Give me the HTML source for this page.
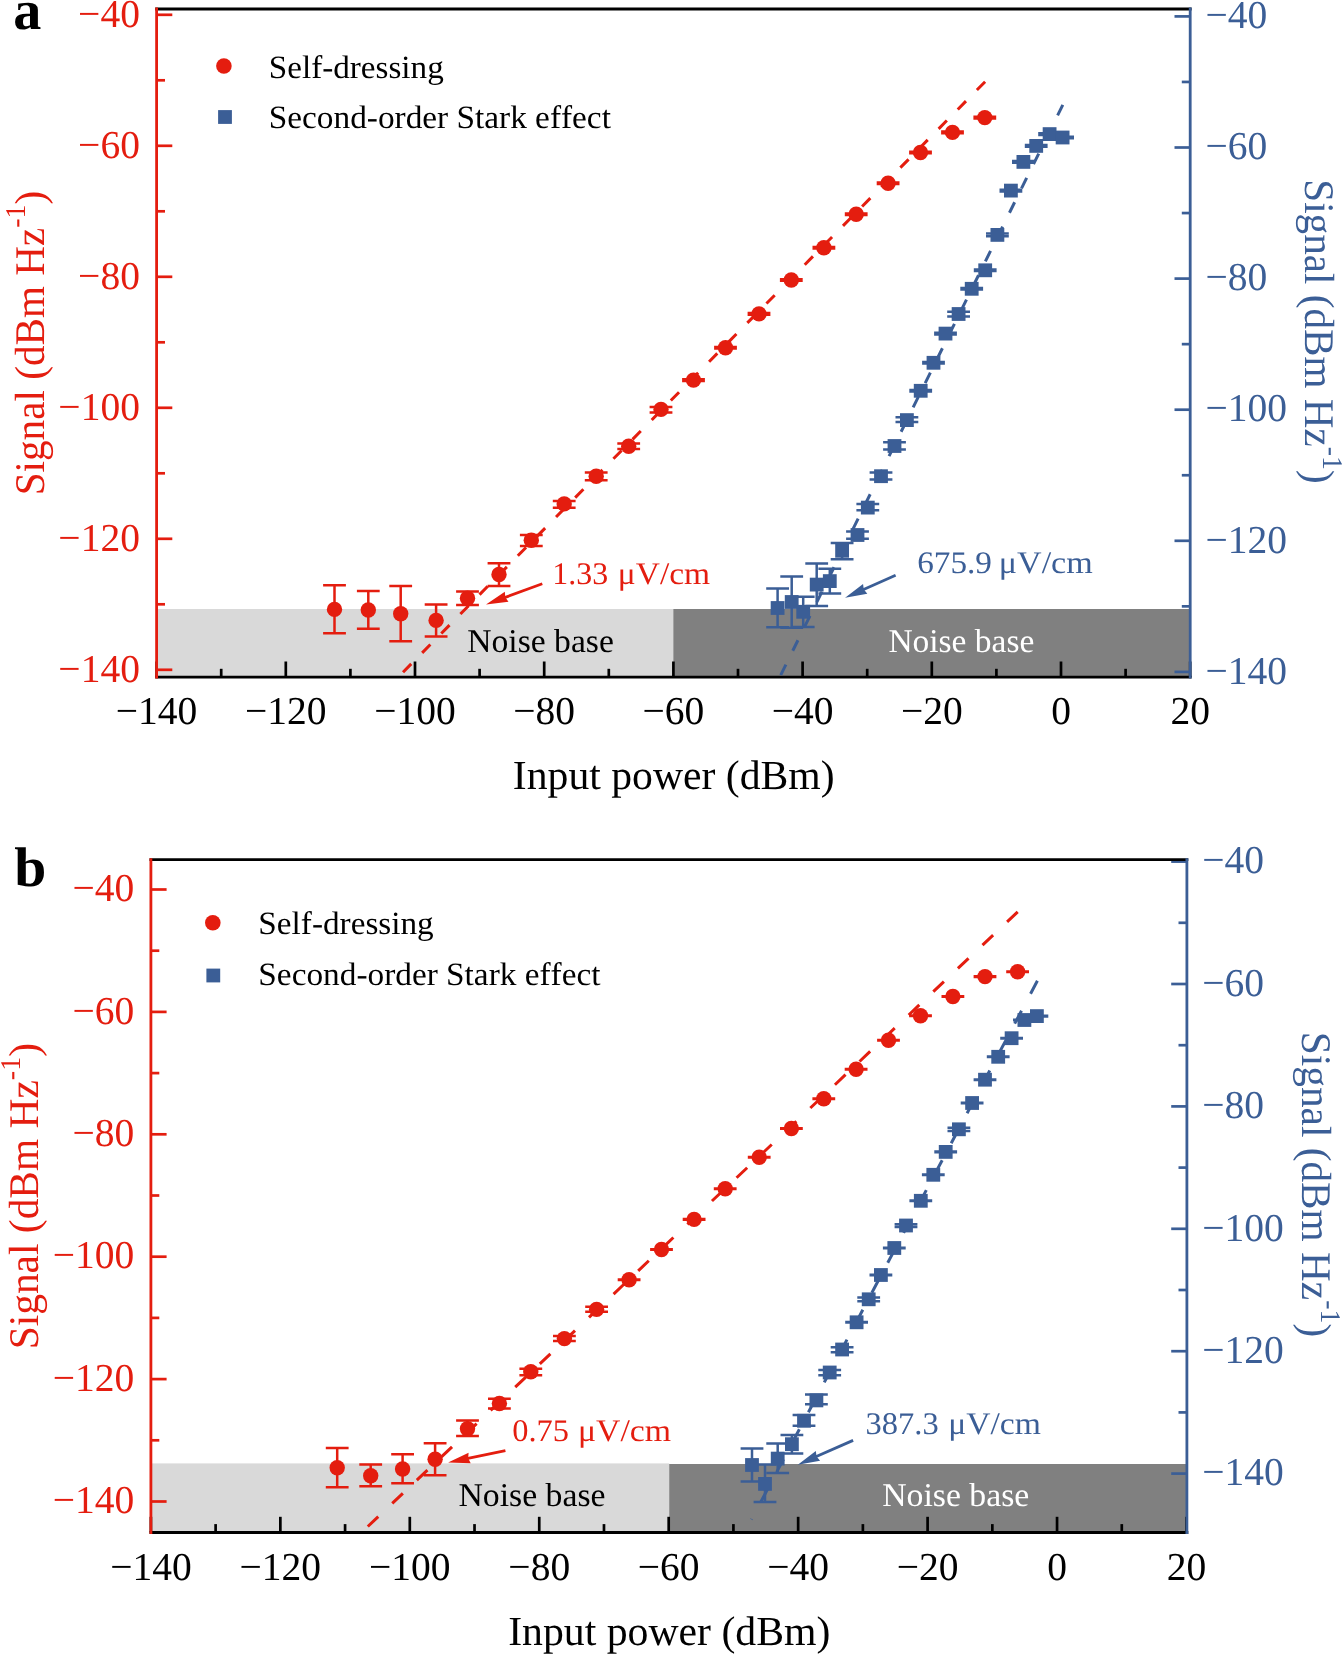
<!DOCTYPE html>
<html><head><meta charset="utf-8"><style>
html,body{margin:0;padding:0;background:#fff;}
svg{display:block;font-family:"Liberation Serif", serif;font-kerning:none;font-variant-ligatures:none;text-rendering:geometricPrecision;filter:blur(0.45px);}
</style></head><body>
<svg width="1343" height="1654" viewBox="0 0 1343 1654">
<rect width="1343" height="1654" fill="#fff"/>
<rect x="156.6" y="609" width="516.7" height="68.2" fill="#d9d9d9"/>
<rect x="673.3" y="609" width="516.9" height="68.2" fill="#808080"/>
<line x1="156.6" y1="677.2" x2="156.6" y2="661.5" stroke="#000" stroke-width="2.7"/>
<line x1="221.2" y1="677.2" x2="221.2" y2="668.8" stroke="#000" stroke-width="2.7"/>
<line x1="285.8" y1="677.2" x2="285.8" y2="661.5" stroke="#000" stroke-width="2.7"/>
<line x1="350.4" y1="677.2" x2="350.4" y2="668.8" stroke="#000" stroke-width="2.7"/>
<line x1="415" y1="677.2" x2="415" y2="661.5" stroke="#000" stroke-width="2.7"/>
<line x1="479.6" y1="677.2" x2="479.6" y2="668.8" stroke="#000" stroke-width="2.7"/>
<line x1="544.2" y1="677.2" x2="544.2" y2="661.5" stroke="#000" stroke-width="2.7"/>
<line x1="608.8" y1="677.2" x2="608.8" y2="668.8" stroke="#000" stroke-width="2.7"/>
<line x1="673.4" y1="677.2" x2="673.4" y2="661.5" stroke="#000" stroke-width="2.7"/>
<line x1="738" y1="677.2" x2="738" y2="668.8" stroke="#000" stroke-width="2.7"/>
<line x1="802.6" y1="677.2" x2="802.6" y2="661.5" stroke="#000" stroke-width="2.7"/>
<line x1="867.2" y1="677.2" x2="867.2" y2="668.8" stroke="#000" stroke-width="2.7"/>
<line x1="931.8" y1="677.2" x2="931.8" y2="661.5" stroke="#000" stroke-width="2.7"/>
<line x1="996.4" y1="677.2" x2="996.4" y2="668.8" stroke="#000" stroke-width="2.7"/>
<line x1="1061" y1="677.2" x2="1061" y2="661.5" stroke="#000" stroke-width="2.7"/>
<line x1="1125.6" y1="677.2" x2="1125.6" y2="668.8" stroke="#000" stroke-width="2.7"/>
<line x1="1190.2" y1="677.2" x2="1190.2" y2="661.5" stroke="#000" stroke-width="2.7"/>
<line x1="156.6" y1="14.8" x2="172.3" y2="14.8" stroke="#e41d0f" stroke-width="2.7"/>
<line x1="156.6" y1="80.3" x2="165" y2="80.3" stroke="#e41d0f" stroke-width="2.7"/>
<line x1="156.6" y1="145.8" x2="172.3" y2="145.8" stroke="#e41d0f" stroke-width="2.7"/>
<line x1="156.6" y1="211.3" x2="165" y2="211.3" stroke="#e41d0f" stroke-width="2.7"/>
<line x1="156.6" y1="276.8" x2="172.3" y2="276.8" stroke="#e41d0f" stroke-width="2.7"/>
<line x1="156.6" y1="342.3" x2="165" y2="342.3" stroke="#e41d0f" stroke-width="2.7"/>
<line x1="156.6" y1="407.8" x2="172.3" y2="407.8" stroke="#e41d0f" stroke-width="2.7"/>
<line x1="156.6" y1="473.3" x2="165" y2="473.3" stroke="#e41d0f" stroke-width="2.7"/>
<line x1="156.6" y1="538.8" x2="172.3" y2="538.8" stroke="#e41d0f" stroke-width="2.7"/>
<line x1="156.6" y1="604.3" x2="165" y2="604.3" stroke="#e41d0f" stroke-width="2.7"/>
<line x1="156.6" y1="669.8" x2="172.3" y2="669.8" stroke="#e41d0f" stroke-width="2.7"/>
<line x1="1190.2" y1="16.4" x2="1174.5" y2="16.4" stroke="#3b5e96" stroke-width="2.7"/>
<line x1="1190.2" y1="81.95" x2="1181.8" y2="81.95" stroke="#3b5e96" stroke-width="2.7"/>
<line x1="1190.2" y1="147.5" x2="1174.5" y2="147.5" stroke="#3b5e96" stroke-width="2.7"/>
<line x1="1190.2" y1="213.05" x2="1181.8" y2="213.05" stroke="#3b5e96" stroke-width="2.7"/>
<line x1="1190.2" y1="278.6" x2="1174.5" y2="278.6" stroke="#3b5e96" stroke-width="2.7"/>
<line x1="1190.2" y1="344.15" x2="1181.8" y2="344.15" stroke="#3b5e96" stroke-width="2.7"/>
<line x1="1190.2" y1="409.7" x2="1174.5" y2="409.7" stroke="#3b5e96" stroke-width="2.7"/>
<line x1="1190.2" y1="475.25" x2="1181.8" y2="475.25" stroke="#3b5e96" stroke-width="2.7"/>
<line x1="1190.2" y1="540.8" x2="1174.5" y2="540.8" stroke="#3b5e96" stroke-width="2.7"/>
<line x1="1190.2" y1="606.35" x2="1181.8" y2="606.35" stroke="#3b5e96" stroke-width="2.7"/>
<line x1="1190.2" y1="671.9" x2="1174.5" y2="671.9" stroke="#3b5e96" stroke-width="2.7"/>
<line x1="155.2" y1="9" x2="1191.6" y2="9" stroke="#000" stroke-width="2.8"/>
<line x1="155.2" y1="677.2" x2="1191.6" y2="677.2" stroke="#000" stroke-width="2.8"/>
<line x1="156.6" y1="7.6" x2="156.6" y2="678.6" stroke="#e41d0f" stroke-width="2.8"/>
<line x1="1190.2" y1="7.6" x2="1190.2" y2="678.6" stroke="#3b5e96" stroke-width="2.8"/>
<text x="156.6" y="724.2" font-size="39.5" text-anchor="middle" fill="#000">−140</text>
<text x="285.8" y="724.2" font-size="39.5" text-anchor="middle" fill="#000">−120</text>
<text x="415" y="724.2" font-size="39.5" text-anchor="middle" fill="#000">−100</text>
<text x="544.2" y="724.2" font-size="39.5" text-anchor="middle" fill="#000">−80</text>
<text x="673.4" y="724.2" font-size="39.5" text-anchor="middle" fill="#000">−60</text>
<text x="802.6" y="724.2" font-size="39.5" text-anchor="middle" fill="#000">−40</text>
<text x="931.8" y="724.2" font-size="39.5" text-anchor="middle" fill="#000">−20</text>
<text x="1061" y="724.2" font-size="39.5" text-anchor="middle" fill="#000">0</text>
<text x="1190.2" y="724.2" font-size="39.5" text-anchor="middle" fill="#000">20</text>
<text x="139.9" y="26.5" font-size="39.5" text-anchor="end" fill="#e41d0f">−40</text>
<text x="1205.6" y="28.1" font-size="39.5" fill="#3b5e96">−40</text>
<text x="139.9" y="157.5" font-size="39.5" text-anchor="end" fill="#e41d0f">−60</text>
<text x="1205.6" y="159.2" font-size="39.5" fill="#3b5e96">−60</text>
<text x="139.9" y="288.5" font-size="39.5" text-anchor="end" fill="#e41d0f">−80</text>
<text x="1205.6" y="290.3" font-size="39.5" fill="#3b5e96">−80</text>
<text x="139.9" y="419.5" font-size="39.5" text-anchor="end" fill="#e41d0f">−100</text>
<text x="1205.6" y="421.4" font-size="39.5" fill="#3b5e96">−100</text>
<text x="139.9" y="550.5" font-size="39.5" text-anchor="end" fill="#e41d0f">−120</text>
<text x="1205.6" y="552.5" font-size="39.5" fill="#3b5e96">−120</text>
<text x="139.9" y="681.5" font-size="39.5" text-anchor="end" fill="#e41d0f">−140</text>
<text x="1205.6" y="683.6" font-size="39.5" fill="#3b5e96">−140</text>
<rect x="150.9" y="1463.4" width="518.3" height="69.1" fill="#d9d9d9"/>
<rect x="669.2" y="1464" width="517.7" height="68.5" fill="#808080"/>
<line x1="150.9" y1="1532.5" x2="150.9" y2="1516.8" stroke="#000" stroke-width="2.7"/>
<line x1="215.62" y1="1532.5" x2="215.62" y2="1524.1" stroke="#000" stroke-width="2.7"/>
<line x1="280.35" y1="1532.5" x2="280.35" y2="1516.8" stroke="#000" stroke-width="2.7"/>
<line x1="345.08" y1="1532.5" x2="345.08" y2="1524.1" stroke="#000" stroke-width="2.7"/>
<line x1="409.8" y1="1532.5" x2="409.8" y2="1516.8" stroke="#000" stroke-width="2.7"/>
<line x1="474.52" y1="1532.5" x2="474.52" y2="1524.1" stroke="#000" stroke-width="2.7"/>
<line x1="539.25" y1="1532.5" x2="539.25" y2="1516.8" stroke="#000" stroke-width="2.7"/>
<line x1="603.98" y1="1532.5" x2="603.98" y2="1524.1" stroke="#000" stroke-width="2.7"/>
<line x1="668.7" y1="1532.5" x2="668.7" y2="1516.8" stroke="#000" stroke-width="2.7"/>
<line x1="733.42" y1="1532.5" x2="733.42" y2="1524.1" stroke="#000" stroke-width="2.7"/>
<line x1="798.15" y1="1532.5" x2="798.15" y2="1516.8" stroke="#000" stroke-width="2.7"/>
<line x1="862.88" y1="1532.5" x2="862.88" y2="1524.1" stroke="#000" stroke-width="2.7"/>
<line x1="927.6" y1="1532.5" x2="927.6" y2="1516.8" stroke="#000" stroke-width="2.7"/>
<line x1="992.33" y1="1532.5" x2="992.33" y2="1524.1" stroke="#000" stroke-width="2.7"/>
<line x1="1057.05" y1="1532.5" x2="1057.05" y2="1516.8" stroke="#000" stroke-width="2.7"/>
<line x1="1121.78" y1="1532.5" x2="1121.78" y2="1524.1" stroke="#000" stroke-width="2.7"/>
<line x1="1186.5" y1="1532.5" x2="1186.5" y2="1516.8" stroke="#000" stroke-width="2.7"/>
<line x1="150.9" y1="889.5" x2="166.6" y2="889.5" stroke="#e41d0f" stroke-width="2.7"/>
<line x1="150.9" y1="950.7" x2="159.3" y2="950.7" stroke="#e41d0f" stroke-width="2.7"/>
<line x1="150.9" y1="1011.9" x2="166.6" y2="1011.9" stroke="#e41d0f" stroke-width="2.7"/>
<line x1="150.9" y1="1073.1" x2="159.3" y2="1073.1" stroke="#e41d0f" stroke-width="2.7"/>
<line x1="150.9" y1="1134.3" x2="166.6" y2="1134.3" stroke="#e41d0f" stroke-width="2.7"/>
<line x1="150.9" y1="1195.5" x2="159.3" y2="1195.5" stroke="#e41d0f" stroke-width="2.7"/>
<line x1="150.9" y1="1256.7" x2="166.6" y2="1256.7" stroke="#e41d0f" stroke-width="2.7"/>
<line x1="150.9" y1="1317.9" x2="159.3" y2="1317.9" stroke="#e41d0f" stroke-width="2.7"/>
<line x1="150.9" y1="1379.1" x2="166.6" y2="1379.1" stroke="#e41d0f" stroke-width="2.7"/>
<line x1="150.9" y1="1440.3" x2="159.3" y2="1440.3" stroke="#e41d0f" stroke-width="2.7"/>
<line x1="150.9" y1="1501.5" x2="166.6" y2="1501.5" stroke="#e41d0f" stroke-width="2.7"/>
<line x1="1186.9" y1="861.6" x2="1171.2" y2="861.6" stroke="#3b5e96" stroke-width="2.7"/>
<line x1="1186.9" y1="922.8" x2="1178.5" y2="922.8" stroke="#3b5e96" stroke-width="2.7"/>
<line x1="1186.9" y1="984" x2="1171.2" y2="984" stroke="#3b5e96" stroke-width="2.7"/>
<line x1="1186.9" y1="1045.2" x2="1178.5" y2="1045.2" stroke="#3b5e96" stroke-width="2.7"/>
<line x1="1186.9" y1="1106.4" x2="1171.2" y2="1106.4" stroke="#3b5e96" stroke-width="2.7"/>
<line x1="1186.9" y1="1167.6" x2="1178.5" y2="1167.6" stroke="#3b5e96" stroke-width="2.7"/>
<line x1="1186.9" y1="1228.8" x2="1171.2" y2="1228.8" stroke="#3b5e96" stroke-width="2.7"/>
<line x1="1186.9" y1="1290" x2="1178.5" y2="1290" stroke="#3b5e96" stroke-width="2.7"/>
<line x1="1186.9" y1="1351.2" x2="1171.2" y2="1351.2" stroke="#3b5e96" stroke-width="2.7"/>
<line x1="1186.9" y1="1412.4" x2="1178.5" y2="1412.4" stroke="#3b5e96" stroke-width="2.7"/>
<line x1="1186.9" y1="1473.6" x2="1171.2" y2="1473.6" stroke="#3b5e96" stroke-width="2.7"/>
<line x1="149.5" y1="859.7" x2="1188.3" y2="859.7" stroke="#000" stroke-width="2.8"/>
<line x1="149.5" y1="1532.5" x2="1188.3" y2="1532.5" stroke="#000" stroke-width="2.8"/>
<line x1="150.9" y1="858.3" x2="150.9" y2="1533.9" stroke="#e41d0f" stroke-width="2.8"/>
<line x1="1186.9" y1="858.3" x2="1186.9" y2="1533.9" stroke="#3b5e96" stroke-width="2.8"/>
<text x="150.9" y="1579.5" font-size="39.5" text-anchor="middle" fill="#000">−140</text>
<text x="280.35" y="1579.5" font-size="39.5" text-anchor="middle" fill="#000">−120</text>
<text x="409.8" y="1579.5" font-size="39.5" text-anchor="middle" fill="#000">−100</text>
<text x="539.25" y="1579.5" font-size="39.5" text-anchor="middle" fill="#000">−80</text>
<text x="668.7" y="1579.5" font-size="39.5" text-anchor="middle" fill="#000">−60</text>
<text x="798.15" y="1579.5" font-size="39.5" text-anchor="middle" fill="#000">−40</text>
<text x="927.6" y="1579.5" font-size="39.5" text-anchor="middle" fill="#000">−20</text>
<text x="1057.05" y="1579.5" font-size="39.5" text-anchor="middle" fill="#000">0</text>
<text x="1186.5" y="1579.5" font-size="39.5" text-anchor="middle" fill="#000">20</text>
<text x="134.2" y="901.2" font-size="39.5" text-anchor="end" fill="#e41d0f">−40</text>
<text x="1202.3" y="873.3" font-size="39.5" fill="#3b5e96">−40</text>
<text x="134.2" y="1023.6" font-size="39.5" text-anchor="end" fill="#e41d0f">−60</text>
<text x="1202.3" y="995.7" font-size="39.5" fill="#3b5e96">−60</text>
<text x="134.2" y="1146" font-size="39.5" text-anchor="end" fill="#e41d0f">−80</text>
<text x="1202.3" y="1118.1" font-size="39.5" fill="#3b5e96">−80</text>
<text x="134.2" y="1268.4" font-size="39.5" text-anchor="end" fill="#e41d0f">−100</text>
<text x="1202.3" y="1240.5" font-size="39.5" fill="#3b5e96">−100</text>
<text x="134.2" y="1390.8" font-size="39.5" text-anchor="end" fill="#e41d0f">−120</text>
<text x="1202.3" y="1362.9" font-size="39.5" fill="#3b5e96">−120</text>
<text x="134.2" y="1513.2" font-size="39.5" text-anchor="end" fill="#e41d0f">−140</text>
<text x="1202.3" y="1485.3" font-size="39.5" fill="#3b5e96">−140</text>
<defs><clipPath id="ca"><rect x="156.6" y="8.7" width="1033.6" height="667.1"/></clipPath><clipPath id="cb"><rect x="150.9" y="859.3" width="1036" height="671.8"/></clipPath></defs>
<line x1="985.1" y1="81.7" x2="402" y2="673.3" stroke="#e41d0f" stroke-width="3" stroke-dasharray="11.7 15.55" clip-path="url(#ca)"/>
<line x1="1062.8" y1="104.9" x2="776.2" y2="684.2" stroke="#3b5e96" stroke-width="3" stroke-dasharray="11.7 15.45" clip-path="url(#ca)"/>
<path d="M334.5 585.2V633.2M323.1 585.2H345.9M323.1 633.2H345.9" stroke="#e41d0f" stroke-width="2.5" fill="none"/>
<path d="M368.3 591V628.7M356.9 591H379.7M356.9 628.7H379.7" stroke="#e41d0f" stroke-width="2.5" fill="none"/>
<path d="M400.7 586.1V641.3M389.3 586.1H412.1M389.3 641.3H412.1" stroke="#e41d0f" stroke-width="2.5" fill="none"/>
<path d="M436.1 604.5V636.5M424.7 604.5H447.5M424.7 636.5H447.5" stroke="#e41d0f" stroke-width="2.5" fill="none"/>
<path d="M467.5 591.4V604.9M456.1 591.4H478.9M456.1 604.9H478.9" stroke="#e41d0f" stroke-width="2.5" fill="none"/>
<path d="M499 563.3V586M487.6 563.3H510.4M487.6 586H510.4" stroke="#e41d0f" stroke-width="2.5" fill="none"/>
<path d="M531.3 534.9V546.1M519.9 534.9H542.7M519.9 546.1H542.7" stroke="#e41d0f" stroke-width="2.5" fill="none"/>
<path d="M564.2 501V507.8M552.8 501H575.6M552.8 507.8H575.6" stroke="#e41d0f" stroke-width="2.5" fill="none"/>
<path d="M596.2 472.5V480.3M584.8 472.5H607.6M584.8 480.3H607.6" stroke="#e41d0f" stroke-width="2.5" fill="none"/>
<path d="M628.7 443.5V448.9M617.3 443.5H640.1M617.3 448.9H640.1" stroke="#e41d0f" stroke-width="2.5" fill="none"/>
<path d="M661 407.1V412.5M649.6 407.1H672.4M649.6 412.5H672.4" stroke="#e41d0f" stroke-width="2.5" fill="none"/>
<path d="M693.5 379.3V380.9M682.1 379.3H704.9M682.1 380.9H704.9" stroke="#e41d0f" stroke-width="2.5" fill="none"/>
<path d="M725.5 347V348.6M714.1 347H736.9M714.1 348.6H736.9" stroke="#e41d0f" stroke-width="2.5" fill="none"/>
<path d="M759 313.1V314.7M747.6 313.1H770.4M747.6 314.7H770.4" stroke="#e41d0f" stroke-width="2.5" fill="none"/>
<path d="M791.3 279.2V280.8M779.9 279.2H802.7M779.9 280.8H802.7" stroke="#e41d0f" stroke-width="2.5" fill="none"/>
<path d="M823.9 246.9V248.5M812.5 246.9H835.3M812.5 248.5H835.3" stroke="#e41d0f" stroke-width="2.5" fill="none"/>
<path d="M856.2 213.4V215M844.8 213.4H867.6M844.8 215H867.6" stroke="#e41d0f" stroke-width="2.5" fill="none"/>
<path d="M888.1 182.4V184M876.7 182.4H899.5M876.7 184H899.5" stroke="#e41d0f" stroke-width="2.5" fill="none"/>
<path d="M920.5 151.7V153.3M909.1 151.7H931.9M909.1 153.3H931.9" stroke="#e41d0f" stroke-width="2.5" fill="none"/>
<path d="M952.5 131.6V133.2M941.1 131.6H963.9M941.1 133.2H963.9" stroke="#e41d0f" stroke-width="2.5" fill="none"/>
<path d="M984.8 116.8V118.4M973.4 116.8H996.2M973.4 118.4H996.2" stroke="#e41d0f" stroke-width="2.5" fill="none"/>
<path d="M777.6 588.6V627.3M766.2 588.6H789M766.2 627.3H789" stroke="#3b5e96" stroke-width="2.5" fill="none"/>
<path d="M791.7 576.5V627.8M780.3 576.5H803.1M780.3 627.8H803.1" stroke="#3b5e96" stroke-width="2.5" fill="none"/>
<path d="M803.2 596.7V627M791.8 596.7H814.6M791.8 627H814.6" stroke="#3b5e96" stroke-width="2.5" fill="none"/>
<path d="M816.7 563.5V606M805.3 563.5H828.1M805.3 606H828.1" stroke="#3b5e96" stroke-width="2.5" fill="none"/>
<path d="M829.8 568.7V593.5M818.4 568.7H841.2M818.4 593.5H841.2" stroke="#3b5e96" stroke-width="2.5" fill="none"/>
<path d="M842.1 542.9V559.2M830.7 542.9H853.5M830.7 559.2H853.5" stroke="#3b5e96" stroke-width="2.5" fill="none"/>
<path d="M857.5 531.4V538.7M846.1 531.4H868.9M846.1 538.7H868.9" stroke="#3b5e96" stroke-width="2.5" fill="none"/>
<path d="M867.8 504.1V510.3M856.4 504.1H879.2M856.4 510.3H879.2" stroke="#3b5e96" stroke-width="2.5" fill="none"/>
<path d="M881 472.5V479.5M869.6 472.5H892.4M869.6 479.5H892.4" stroke="#3b5e96" stroke-width="2.5" fill="none"/>
<path d="M894.5 442.3V449.6M883.1 442.3H905.9M883.1 449.6H905.9" stroke="#3b5e96" stroke-width="2.5" fill="none"/>
<path d="M906.9 417.3V422.1M895.5 417.3H918.3M895.5 422.1H918.3" stroke="#3b5e96" stroke-width="2.5" fill="none"/>
<path d="M920.7 390V391.6M909.3 390H932.1M909.3 391.6H932.1" stroke="#3b5e96" stroke-width="2.5" fill="none"/>
<path d="M933.5 362V363.6M922.1 362H944.9M922.1 363.6H944.9" stroke="#3b5e96" stroke-width="2.5" fill="none"/>
<path d="M945.5 332.8V334.4M934.1 332.8H956.9M934.1 334.4H956.9" stroke="#3b5e96" stroke-width="2.5" fill="none"/>
<path d="M958.6 311.7V316.6M947.2 311.7H970M947.2 316.6H970" stroke="#3b5e96" stroke-width="2.5" fill="none"/>
<path d="M971.7 288V289.6M960.3 288H983.1M960.3 289.6H983.1" stroke="#3b5e96" stroke-width="2.5" fill="none"/>
<path d="M985.2 269.5V271.1M973.8 269.5H996.6M973.8 271.1H996.6" stroke="#3b5e96" stroke-width="2.5" fill="none"/>
<path d="M997.4 233.5V236.2M986 233.5H1008.8M986 236.2H1008.8" stroke="#3b5e96" stroke-width="2.5" fill="none"/>
<path d="M1010.9 189.8V191.4M999.5 189.8H1022.3M999.5 191.4H1022.3" stroke="#3b5e96" stroke-width="2.5" fill="none"/>
<path d="M1023.4 161.1V162.7M1012 161.1H1034.8M1012 162.7H1034.8" stroke="#3b5e96" stroke-width="2.5" fill="none"/>
<path d="M1036.2 145.1V146.7M1024.8 145.1H1047.6M1024.8 146.7H1047.6" stroke="#3b5e96" stroke-width="2.5" fill="none"/>
<path d="M1049.6 133.3V134.9M1038.2 133.3H1061M1038.2 134.9H1061" stroke="#3b5e96" stroke-width="2.5" fill="none"/>
<path d="M1062.6 136.7V138.3M1051.2 136.7H1074M1051.2 138.3H1074" stroke="#3b5e96" stroke-width="2.5" fill="none"/>
<circle cx="334.5" cy="609.4" r="7.7" fill="#e41d0f"/>
<circle cx="368.3" cy="610" r="7.7" fill="#e41d0f"/>
<circle cx="400.7" cy="613.8" r="7.7" fill="#e41d0f"/>
<circle cx="436.1" cy="620.4" r="7.7" fill="#e41d0f"/>
<circle cx="467.5" cy="598.3" r="7.7" fill="#e41d0f"/>
<circle cx="499" cy="574.5" r="7.7" fill="#e41d0f"/>
<circle cx="531.3" cy="540.3" r="7.7" fill="#e41d0f"/>
<circle cx="564.2" cy="503.9" r="7.7" fill="#e41d0f"/>
<circle cx="596.2" cy="476.2" r="7.7" fill="#e41d0f"/>
<circle cx="628.7" cy="446.2" r="7.7" fill="#e41d0f"/>
<circle cx="661" cy="409.4" r="7.7" fill="#e41d0f"/>
<circle cx="693.5" cy="380.1" r="7.7" fill="#e41d0f"/>
<circle cx="725.5" cy="347.8" r="7.7" fill="#e41d0f"/>
<circle cx="759" cy="313.9" r="7.7" fill="#e41d0f"/>
<circle cx="791.3" cy="280" r="7.7" fill="#e41d0f"/>
<circle cx="823.9" cy="247.7" r="7.7" fill="#e41d0f"/>
<circle cx="856.2" cy="214.2" r="7.7" fill="#e41d0f"/>
<circle cx="888.1" cy="183.2" r="7.7" fill="#e41d0f"/>
<circle cx="920.5" cy="152.5" r="7.7" fill="#e41d0f"/>
<circle cx="952.5" cy="132.4" r="7.7" fill="#e41d0f"/>
<circle cx="984.8" cy="117.6" r="7.7" fill="#e41d0f"/>
<rect x="770.7" y="601.1" width="13.8" height="13.8" fill="#3b5e96"/>
<rect x="784.8" y="595.1" width="13.8" height="13.8" fill="#3b5e96"/>
<rect x="796.3" y="604.9" width="13.8" height="13.8" fill="#3b5e96"/>
<rect x="809.8" y="577.7" width="13.8" height="13.8" fill="#3b5e96"/>
<rect x="822.9" y="574.2" width="13.8" height="13.8" fill="#3b5e96"/>
<rect x="835.2" y="543.9" width="13.8" height="13.8" fill="#3b5e96"/>
<rect x="850.6" y="528.1" width="13.8" height="13.8" fill="#3b5e96"/>
<rect x="860.9" y="500.7" width="13.8" height="13.8" fill="#3b5e96"/>
<rect x="874.1" y="469.3" width="13.8" height="13.8" fill="#3b5e96"/>
<rect x="887.6" y="439.1" width="13.8" height="13.8" fill="#3b5e96"/>
<rect x="900" y="413.2" width="13.8" height="13.8" fill="#3b5e96"/>
<rect x="913.8" y="383.9" width="13.8" height="13.8" fill="#3b5e96"/>
<rect x="926.6" y="355.9" width="13.8" height="13.8" fill="#3b5e96"/>
<rect x="938.6" y="326.7" width="13.8" height="13.8" fill="#3b5e96"/>
<rect x="951.7" y="307.1" width="13.8" height="13.8" fill="#3b5e96"/>
<rect x="964.8" y="281.9" width="13.8" height="13.8" fill="#3b5e96"/>
<rect x="978.3" y="263.4" width="13.8" height="13.8" fill="#3b5e96"/>
<rect x="990.5" y="228" width="13.8" height="13.8" fill="#3b5e96"/>
<rect x="1004" y="183.7" width="13.8" height="13.8" fill="#3b5e96"/>
<rect x="1016.5" y="155" width="13.8" height="13.8" fill="#3b5e96"/>
<rect x="1029.3" y="139" width="13.8" height="13.8" fill="#3b5e96"/>
<rect x="1042.7" y="127.2" width="13.8" height="13.8" fill="#3b5e96"/>
<rect x="1055.7" y="130.6" width="13.8" height="13.8" fill="#3b5e96"/>
<line x1="1017.7" y1="911.9" x2="367.8" y2="1526.5" stroke="#e41d0f" stroke-width="3" stroke-dasharray="14.6 19.25" clip-path="url(#cb)"/>
<line x1="1037.4" y1="980.8" x2="751.5" y2="1519.5" stroke="#3b5e96" stroke-width="3" stroke-dasharray="14.6 19.25" clip-path="url(#cb)"/>
<path d="M337.2 1448.1V1487.2M325.8 1448.1H348.6M325.8 1487.2H348.6" stroke="#e41d0f" stroke-width="2.5" fill="none"/>
<path d="M370.7 1464.5V1486.2M359.3 1464.5H382.1M359.3 1486.2H382.1" stroke="#e41d0f" stroke-width="2.5" fill="none"/>
<path d="M402.6 1454.3V1483.3M391.2 1454.3H414M391.2 1483.3H414" stroke="#e41d0f" stroke-width="2.5" fill="none"/>
<path d="M435.1 1443.2V1475.2M423.7 1443.2H446.5M423.7 1475.2H446.5" stroke="#e41d0f" stroke-width="2.5" fill="none"/>
<path d="M467.5 1420.4V1436.1M456.1 1420.4H478.9M456.1 1436.1H478.9" stroke="#e41d0f" stroke-width="2.5" fill="none"/>
<path d="M499.4 1398.7V1408.4M488 1398.7H510.8M488 1408.4H510.8" stroke="#e41d0f" stroke-width="2.5" fill="none"/>
<path d="M530.8 1368.7V1375.2M519.4 1368.7H542.2M519.4 1375.2H542.2" stroke="#e41d0f" stroke-width="2.5" fill="none"/>
<path d="M564.4 1336V1341M553 1336H575.8M553 1341H575.8" stroke="#e41d0f" stroke-width="2.5" fill="none"/>
<path d="M596.6 1306.8V1311.8M585.2 1306.8H608M585.2 1311.8H608" stroke="#e41d0f" stroke-width="2.5" fill="none"/>
<path d="M629.1 1279.4V1280M617.7 1279.4H640.5M617.7 1280H640.5" stroke="#e41d0f" stroke-width="2.5" fill="none"/>
<path d="M661.5 1249.2V1249.8M650.1 1249.2H672.9M650.1 1249.8H672.9" stroke="#e41d0f" stroke-width="2.5" fill="none"/>
<path d="M694.1 1219.1V1219.7M682.7 1219.1H705.5M682.7 1219.7H705.5" stroke="#e41d0f" stroke-width="2.5" fill="none"/>
<path d="M725.2 1188.5V1189.1M713.8 1188.5H736.6M713.8 1189.1H736.6" stroke="#e41d0f" stroke-width="2.5" fill="none"/>
<path d="M759.2 1156.9V1157.5M747.8 1156.9H770.6M747.8 1157.5H770.6" stroke="#e41d0f" stroke-width="2.5" fill="none"/>
<path d="M791.4 1128.2V1128.8M780 1128.2H802.8M780 1128.8H802.8" stroke="#e41d0f" stroke-width="2.5" fill="none"/>
<path d="M823.8 1098.5V1099.1M812.4 1098.5H835.2M812.4 1099.1H835.2" stroke="#e41d0f" stroke-width="2.5" fill="none"/>
<path d="M856.1 1069V1069.6M844.7 1069H867.5M844.7 1069.6H867.5" stroke="#e41d0f" stroke-width="2.5" fill="none"/>
<path d="M888.5 1040V1040.6M877.1 1040H899.9M877.1 1040.6H899.9" stroke="#e41d0f" stroke-width="2.5" fill="none"/>
<path d="M920.5 1015.4V1016M909.1 1015.4H931.9M909.1 1016H931.9" stroke="#e41d0f" stroke-width="2.5" fill="none"/>
<path d="M952.9 996.2V996.8M941.5 996.2H964.3M941.5 996.8H964.3" stroke="#e41d0f" stroke-width="2.5" fill="none"/>
<path d="M985 976.3V976.9M973.6 976.3H996.4M973.6 976.9H996.4" stroke="#e41d0f" stroke-width="2.5" fill="none"/>
<path d="M1017.6 971.4V972M1006.2 971.4H1029M1006.2 972H1029" stroke="#e41d0f" stroke-width="2.5" fill="none"/>
<path d="M752 1448.5V1481.4M740.6 1448.5H763.4M740.6 1481.4H763.4" stroke="#3b5e96" stroke-width="2.5" fill="none"/>
<path d="M765 1464.5V1502M753.6 1464.5H776.4M753.6 1502H776.4" stroke="#3b5e96" stroke-width="2.5" fill="none"/>
<path d="M777.7 1443.6V1473M766.3 1443.6H789.1M766.3 1473H789.1" stroke="#3b5e96" stroke-width="2.5" fill="none"/>
<path d="M791.9 1434.9V1453.4M780.5 1434.9H803.3M780.5 1453.4H803.3" stroke="#3b5e96" stroke-width="2.5" fill="none"/>
<path d="M804 1414.9V1425.8M792.6 1414.9H815.4M792.6 1425.8H815.4" stroke="#3b5e96" stroke-width="2.5" fill="none"/>
<path d="M816.4 1394.4V1404.2M805 1394.4H827.8M805 1404.2H827.8" stroke="#3b5e96" stroke-width="2.5" fill="none"/>
<path d="M829.7 1369.9V1375.2M818.3 1369.9H841.1M818.3 1375.2H841.1" stroke="#3b5e96" stroke-width="2.5" fill="none"/>
<path d="M842.1 1347.2V1352.2M830.7 1347.2H853.5M830.7 1352.2H853.5" stroke="#3b5e96" stroke-width="2.5" fill="none"/>
<path d="M856.6 1322V1322.6M845.2 1322H868M845.2 1322.6H868" stroke="#3b5e96" stroke-width="2.5" fill="none"/>
<path d="M868.7 1297.4V1301.2M857.3 1297.4H880.1M857.3 1301.2H880.1" stroke="#3b5e96" stroke-width="2.5" fill="none"/>
<path d="M880.9 1274.7V1275.3M869.5 1274.7H892.3M869.5 1275.3H892.3" stroke="#3b5e96" stroke-width="2.5" fill="none"/>
<path d="M894.3 1247.7V1248.3M882.9 1247.7H905.7M882.9 1248.3H905.7" stroke="#3b5e96" stroke-width="2.5" fill="none"/>
<path d="M906 1224.2V1227M894.6 1224.2H917.4M894.6 1227H917.4" stroke="#3b5e96" stroke-width="2.5" fill="none"/>
<path d="M920.8 1200.5V1201.1M909.4 1200.5H932.2M909.4 1201.1H932.2" stroke="#3b5e96" stroke-width="2.5" fill="none"/>
<path d="M933.3 1174.5V1175.1M921.9 1174.5H944.7M921.9 1175.1H944.7" stroke="#3b5e96" stroke-width="2.5" fill="none"/>
<path d="M945.7 1151.6V1152.2M934.3 1151.6H957.1M934.3 1152.2H957.1" stroke="#3b5e96" stroke-width="2.5" fill="none"/>
<path d="M958.9 1127.8V1130.9M947.5 1127.8H970.3M947.5 1130.9H970.3" stroke="#3b5e96" stroke-width="2.5" fill="none"/>
<path d="M972.1 1102.7V1103.3M960.7 1102.7H983.5M960.7 1103.3H983.5" stroke="#3b5e96" stroke-width="2.5" fill="none"/>
<path d="M985 1079.4V1080M973.6 1079.4H996.4M973.6 1080H996.4" stroke="#3b5e96" stroke-width="2.5" fill="none"/>
<path d="M998.2 1056.5V1057.1M986.8 1056.5H1009.6M986.8 1057.1H1009.6" stroke="#3b5e96" stroke-width="2.5" fill="none"/>
<path d="M1011.6 1037.9V1038.5M1000.2 1037.9H1023M1000.2 1038.5H1023" stroke="#3b5e96" stroke-width="2.5" fill="none"/>
<path d="M1024.4 1019.7V1020.3M1013 1019.7H1035.8M1013 1020.3H1035.8" stroke="#3b5e96" stroke-width="2.5" fill="none"/>
<path d="M1036.9 1015.8V1016.4M1025.5 1015.8H1048.3M1025.5 1016.4H1048.3" stroke="#3b5e96" stroke-width="2.5" fill="none"/>
<circle cx="337.2" cy="1467.8" r="7.7" fill="#e41d0f"/>
<circle cx="370.7" cy="1475.8" r="7.7" fill="#e41d0f"/>
<circle cx="402.6" cy="1469" r="7.7" fill="#e41d0f"/>
<circle cx="435.1" cy="1459.3" r="7.7" fill="#e41d0f"/>
<circle cx="467.5" cy="1428.7" r="7.7" fill="#e41d0f"/>
<circle cx="499.4" cy="1403.5" r="7.7" fill="#e41d0f"/>
<circle cx="530.8" cy="1371.8" r="7.7" fill="#e41d0f"/>
<circle cx="564.4" cy="1338.6" r="7.7" fill="#e41d0f"/>
<circle cx="596.6" cy="1309.4" r="7.7" fill="#e41d0f"/>
<circle cx="629.1" cy="1279.7" r="7.7" fill="#e41d0f"/>
<circle cx="661.5" cy="1249.5" r="7.7" fill="#e41d0f"/>
<circle cx="694.1" cy="1219.4" r="7.7" fill="#e41d0f"/>
<circle cx="725.2" cy="1188.8" r="7.7" fill="#e41d0f"/>
<circle cx="759.2" cy="1157.2" r="7.7" fill="#e41d0f"/>
<circle cx="791.4" cy="1128.5" r="7.7" fill="#e41d0f"/>
<circle cx="823.8" cy="1098.8" r="7.7" fill="#e41d0f"/>
<circle cx="856.1" cy="1069.3" r="7.7" fill="#e41d0f"/>
<circle cx="888.5" cy="1040.3" r="7.7" fill="#e41d0f"/>
<circle cx="920.5" cy="1015.7" r="7.7" fill="#e41d0f"/>
<circle cx="952.9" cy="996.5" r="7.7" fill="#e41d0f"/>
<circle cx="985" cy="976.6" r="7.7" fill="#e41d0f"/>
<circle cx="1017.6" cy="971.7" r="7.7" fill="#e41d0f"/>
<rect x="745.1" y="1458.1" width="13.8" height="13.8" fill="#3b5e96"/>
<rect x="758.1" y="1477" width="13.8" height="13.8" fill="#3b5e96"/>
<rect x="770.8" y="1451.7" width="13.8" height="13.8" fill="#3b5e96"/>
<rect x="785" y="1437.3" width="13.8" height="13.8" fill="#3b5e96"/>
<rect x="797.1" y="1413.9" width="13.8" height="13.8" fill="#3b5e96"/>
<rect x="809.5" y="1393.5" width="13.8" height="13.8" fill="#3b5e96"/>
<rect x="822.8" y="1365.6" width="13.8" height="13.8" fill="#3b5e96"/>
<rect x="835.2" y="1342.6" width="13.8" height="13.8" fill="#3b5e96"/>
<rect x="849.7" y="1315.4" width="13.8" height="13.8" fill="#3b5e96"/>
<rect x="861.8" y="1292.4" width="13.8" height="13.8" fill="#3b5e96"/>
<rect x="874" y="1268.1" width="13.8" height="13.8" fill="#3b5e96"/>
<rect x="887.4" y="1241.1" width="13.8" height="13.8" fill="#3b5e96"/>
<rect x="899.1" y="1218.6" width="13.8" height="13.8" fill="#3b5e96"/>
<rect x="913.9" y="1193.9" width="13.8" height="13.8" fill="#3b5e96"/>
<rect x="926.4" y="1167.9" width="13.8" height="13.8" fill="#3b5e96"/>
<rect x="938.8" y="1145" width="13.8" height="13.8" fill="#3b5e96"/>
<rect x="952" y="1122.4" width="13.8" height="13.8" fill="#3b5e96"/>
<rect x="965.2" y="1096.1" width="13.8" height="13.8" fill="#3b5e96"/>
<rect x="978.1" y="1072.8" width="13.8" height="13.8" fill="#3b5e96"/>
<rect x="991.3" y="1049.9" width="13.8" height="13.8" fill="#3b5e96"/>
<rect x="1004.7" y="1031.3" width="13.8" height="13.8" fill="#3b5e96"/>
<rect x="1017.5" y="1013.1" width="13.8" height="13.8" fill="#3b5e96"/>
<rect x="1030" y="1009.2" width="13.8" height="13.8" fill="#3b5e96"/>
<line x1="542.3" y1="583.8" x2="503.84" y2="597.87" stroke="#e41d0f" stroke-width="2.8"/>
<path d="M486 604.4L504.84 591.86L505.25 597.36L508.48 601.82Z" fill="#e41d0f"/>
<line x1="895.6" y1="575.3" x2="862.46" y2="590.07" stroke="#3b5e96" stroke-width="2.8"/>
<path d="M845.1 597.8L863.04 584.01L863.83 589.46L867.35 593.69Z" fill="#3b5e96"/>
<line x1="505.4" y1="1450.7" x2="466.71" y2="1458.67" stroke="#e41d0f" stroke-width="2.8"/>
<path d="M448.1 1462.5L468.58 1452.87L468.18 1458.37L470.72 1463.25Z" fill="#e41d0f"/>
<line x1="853.1" y1="1440.4" x2="815.19" y2="1457.06" stroke="#3b5e96" stroke-width="2.8"/>
<path d="M797.8 1464.7L815.81 1451L816.57 1456.45L820.07 1460.7Z" fill="#3b5e96"/>
<circle cx="223.9" cy="66" r="7.8" fill="#e41d0f"/>
<rect x="218.1" y="110.1" width="13.8" height="13.8" fill="#3b5e96"/>
<circle cx="212.8" cy="922.8" r="7.8" fill="#e41d0f"/>
<rect x="206.4" y="968.6" width="13.8" height="13.8" fill="#3b5e96"/>
<text transform="translate(268.76 77.5) scale(1.0178 1)" font-size="32.6" fill="#000">Self-dressing</text>
<text transform="translate(268.75 127.6) scale(1.0223 1)" font-size="32.6" fill="#000">Second-order Stark effect</text>
<text transform="translate(258.35 933.8) scale(1.0201 1)" font-size="32.6" fill="#000">Self-dressing</text>
<text transform="translate(258.35 985.4) scale(1.0223 1)" font-size="32.6" fill="#000">Second-order Stark effect</text>
<text transform="translate(552.36 583.6) scale(1.012 1)" font-size="31.5" fill="#e41d0f">1.33</text>
<text transform="translate(617.8 583.6) scale(1.0629 1)" font-size="31.5" fill="#e41d0f">μV/cm</text>
<text transform="translate(917.13 573.2) scale(1.0554 1)" font-size="31.5" fill="#3b5e96">675.9</text>
<text transform="translate(998.74 573.2) scale(1.0822 1)" font-size="31.5" fill="#3b5e96">μV/cm</text>
<text transform="translate(512.17 1441.1) scale(1.0304 1)" font-size="31.5" fill="#e41d0f">0.75</text>
<text transform="translate(577.97 1441.1) scale(1.0725 1)" font-size="31.5" fill="#e41d0f">μV/cm</text>
<text transform="translate(865.52 1434.1) scale(1.0327 1)" font-size="31.5" fill="#3b5e96">387.3</text>
<text transform="translate(948.19 1434.1) scale(1.0677 1)" font-size="31.5" fill="#3b5e96">μV/cm</text>
<text transform="translate(467.29 651.9) scale(1.0126 1)" font-size="33.2" fill="#000">Noise base</text>
<text transform="translate(888.39 651.9) scale(1.0084 1)" font-size="33.2" fill="#fff">Noise base</text>
<text transform="translate(458.39 1505.8) scale(1.0168 1)" font-size="33.2" fill="#000">Noise base</text>
<text transform="translate(882.18 1506.2) scale(1.0168 1)" font-size="33.2" fill="#fff">Noise base</text>
<text transform="translate(673.7 789) scale(1.0089 1)" font-size="41.3" text-anchor="middle" fill="#000">Input power (dBm)</text>
<text transform="translate(669.3 1644.9) scale(1.0107 1)" font-size="41.3" text-anchor="middle" fill="#000">Input power (dBm)</text>
<text transform="translate(43.5 343.08) rotate(-90) scale(0.9759 1)" font-size="42.2" text-anchor="middle" fill="#e41d0f">Signal (dBm Hz<tspan font-size="28.5" dy="-18.3">-1</tspan><tspan dy="18.3">)</tspan></text>
<text transform="translate(1304.5 331.51) rotate(90) scale(0.976 1)" font-size="42.2" text-anchor="middle" fill="#3b5e96">Signal (dBm Hz<tspan font-size="28.5" dy="-18.3">-1</tspan><tspan dy="18.3">)</tspan></text>
<text transform="translate(37.8 1196.19) rotate(-90) scale(0.9819 1)" font-size="42.2" text-anchor="middle" fill="#e41d0f">Signal (dBm Hz<tspan font-size="28.5" dy="-18.3">-1</tspan><tspan dy="18.3">)</tspan></text>
<text transform="translate(1302.3 1184.51) rotate(90) scale(0.9786 1)" font-size="42.2" text-anchor="middle" fill="#3b5e96">Signal (dBm Hz<tspan font-size="28.5" dy="-18.3">-1</tspan><tspan dy="18.3">)</tspan></text>
<text transform="translate(13.16 28.5) scale(1.0026 1)" font-size="56" font-weight="bold" fill="#000">a</text>
<text transform="translate(14.36 886) scale(1.029 1)" font-size="56" font-weight="bold" fill="#000">b</text>
</svg>
</body></html>
